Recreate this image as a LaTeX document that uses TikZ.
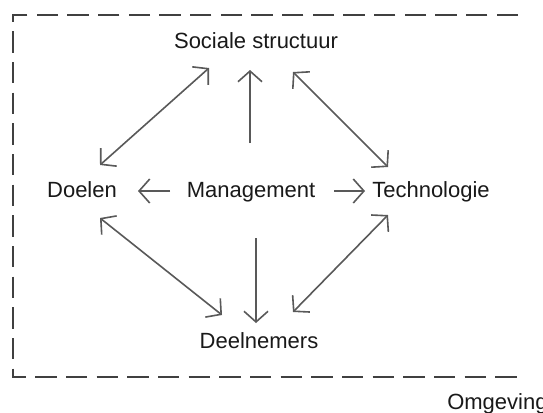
\documentclass[tikz,border=0pt]{standalone}
\usepackage{fontspec}
\setmainfont{Liberation Sans}
\usetikzlibrary{arrows.meta}
\begin{document}
\begin{tikzpicture}[x=0.75pt,y=-0.75pt,
  lbl/.style={anchor=base,inner sep=0pt,font=\fontsize{16.5}{18}\selectfont,text=black!90},
  env/.style={draw=black!75,line width=1.5pt,dash pattern=on 16pt off 7pt},
  conn/.style={draw=black!65,line width=1.2pt,-{Straight Barb[length=8pt,width=18pt,line width=1.2pt]}},
  dbl/.style={conn,{Straight Barb[length=8pt,width=18pt,line width=1.2pt]}-{Straight Barb[length=8pt,width=18pt,line width=1.2pt]}}]
\useasboundingbox (0,0) rectangle (543,412);
\fill[white] (0,0) rectangle (543,412);
\draw[env] (518,15) -- (13,15) -- (13,377) -- (518,377);
\node[lbl] (soc) at (256,48) {Sociale structuur};
\node[lbl] (doe) at (82,197) {Doelen};
\node[lbl] (man) at (251,197) {Management};
\node[lbl] (tec) at (431,197) {Technologie};
\node[lbl] (dee) at (259,348) {Deelnemers};
\node[lbl,anchor=base west] (omg) at (447,409) {Omgeving};
\draw[dbl] ([shift={(18,-32)}]doe.base) -- ([shift={(-47,20)}]soc.base);
\draw[conn] ([shift={(-1,-54)}]man.base) -- ([shift={(-6,22)}]soc.base);
\draw[dbl] ([shift={(37,24)}]soc.base) -- ([shift={(-43,-30)}]tec.base);
\draw[conn] ([shift={(-81,-6)}]man.base) -- ([shift={(56,-6)}]doe.base);
\draw[conn] ([shift={(83,-6)}]man.base) -- ([shift={(-66,-6)}]tec.base);
\draw[dbl] ([shift={(18,21)}]doe.base) -- ([shift={(-37,-33)}]dee.base);
\draw[conn] ([shift={(5,41)}]man.base) -- ([shift={(-3,-25)}]dee.base);
\draw[dbl] ([shift={(-43,18)}]tec.base) -- ([shift={(34,-36)}]dee.base);
\end{tikzpicture}
\end{document}
